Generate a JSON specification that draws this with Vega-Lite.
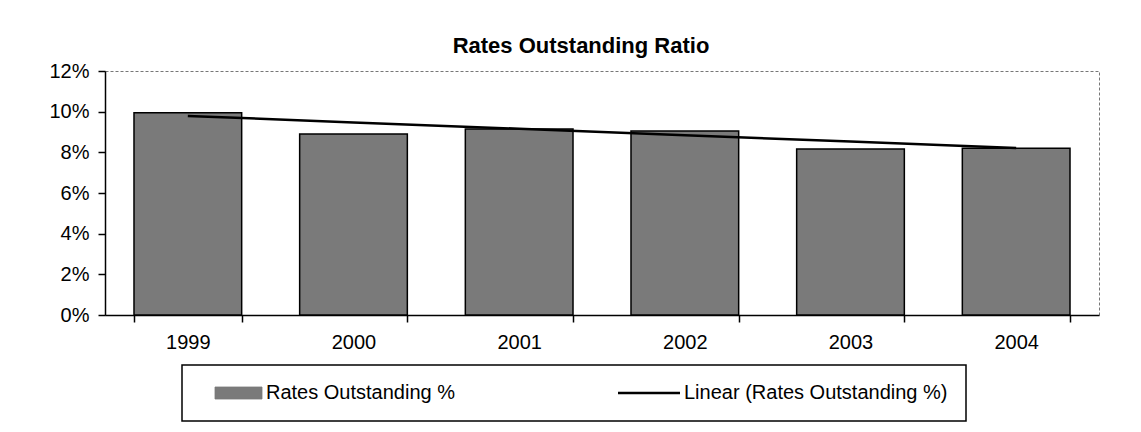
{
  "$schema": "https://vega.github.io/schema/vega-lite/v6.json",
  "autosize": {"type": "none"},
  "padding": {"left": 105, "top": 71, "right": 42, "bottom": 117},
  "width": 994,
  "height": 244,
  "background": "white",
  "title": {
    "text": "Rates Outstanding Ratio",
    "font": "Liberation Sans",
    "fontSize": 22,
    "fontWeight": "bold",
    "color": "black",
    "anchor": "middle",
    "dx": -21,
    "offset": 3
  },
  "data": {
    "values": [
      {"year": "1999", "rate": 0.0995, "trend": 0.0979},
      {"year": "2000", "rate": 0.0890, "trend": 0.0947},
      {"year": "2001", "rate": 0.0915, "trend": 0.0916},
      {"year": "2002", "rate": 0.0905, "trend": 0.0884},
      {"year": "2003", "rate": 0.0817, "trend": 0.0853},
      {"year": "2004", "rate": 0.0820, "trend": 0.0821}
    ]
  },
  "encoding": {
    "x": {
      "field": "year",
      "type": "ordinal",
      "scale": {"paddingInner": 0.35, "paddingOuter": 0.175},
      "axis": {
        "title": null,
        "labelAngle": 0,
        "tickBand": "extent",
        "labelFont": "Liberation Sans",
        "labelFontSize": 20,
        "labelColor": "black",
        "labelPadding": 10,
        "tickSize": 7,
        "tickColor": "black",
        "domainColor": "black",
        "domainWidth": 1.5,
        "tickWidth": 1.5
      }
    }
  },
  "layer": [
    {
      "mark": {"type": "bar", "stroke": "black", "strokeWidth": 1.5},
      "encoding": {
        "y": {
          "field": "rate",
          "type": "quantitative",
          "scale": {"domain": [0, 0.12], "nice": false},
          "axis": {
            "title": null,
            "values": [0, 0.02, 0.04, 0.06, 0.08, 0.1, 0.12],
            "format": ".0%",
            "grid": false,
            "labelFont": "Liberation Sans",
            "labelFontSize": 20,
            "labelColor": "black",
            "labelPadding": 9,
            "tickSize": 7,
            "tickColor": "black",
            "domainColor": "black",
            "domainWidth": 1.5,
            "tickWidth": 1.5
          }
        },
        "color": {
          "datum": "Rates Outstanding %",
          "scale": {
            "domain": ["Rates Outstanding %", "Linear (Rates Outstanding %)"],
            "range": ["#7a7a7a", "#000000"]
          },
          "legend": {
            "title": null,
            "orient": "none",
            "direction": "horizontal",
            "legendX": 77,
            "legendY": 294,
            "padding": 18,
            "strokeColor": "black",
            "fillColor": "white",
            "columnPadding": 158,
            "labelOffset": 46,
            "labelLimit": 0,
            "labelFont": "Liberation Sans",
            "labelFontSize": 20,
            "labelColor": "black",
            "symbolSize": 400,
            "encode": {
              "legend": {"update": {"strokeWidth": {"value": 1.5}}},
              "symbols": {
                "update": {
                  "shape": {"signal": "datum.value === 'Rates Outstanding %' ? 'M0.5,-0.6H5.2V0.6H0.5Z' : 'M-1,0H5.2'"},
                  "fill": {"signal": "datum.value === 'Rates Outstanding %' ? '#7a7a7a' : 'transparent'"},
                  "stroke": {"value": "black"},
                  "strokeWidth": {"signal": "datum.value === 'Rates Outstanding %' ? 0.8 : 2.5"},
                  "opacity": {"value": 1},
                  "fillOpacity": {"value": 1},
                  "strokeOpacity": {"value": 1}
                }
              }
            }
          }
        }
      }
    },
    {
      "mark": {"type": "line", "strokeWidth": 2.5},
      "encoding": {
        "y": {"field": "trend", "type": "quantitative"},
        "color": {
          "datum": "Linear (Rates Outstanding %)",
          "legend": {
            "title": null,
            "orient": "none",
            "direction": "horizontal",
            "legendX": 77,
            "legendY": 294,
            "padding": 18,
            "strokeColor": "black",
            "fillColor": "white",
            "columnPadding": 158,
            "labelOffset": 46,
            "labelLimit": 0,
            "labelFont": "Liberation Sans",
            "labelFontSize": 20,
            "labelColor": "black",
            "symbolSize": 400,
            "encode": {
              "legend": {"update": {"strokeWidth": {"value": 1.5}}},
              "symbols": {
                "update": {
                  "shape": {"signal": "datum.value === 'Rates Outstanding %' ? 'M0.5,-0.6H5.2V0.6H0.5Z' : 'M-1,0H5.2'"},
                  "fill": {"signal": "datum.value === 'Rates Outstanding %' ? '#7a7a7a' : 'transparent'"},
                  "stroke": {"value": "black"},
                  "strokeWidth": {"signal": "datum.value === 'Rates Outstanding %' ? 0.8 : 2.5"},
                  "opacity": {"value": 1},
                  "fillOpacity": {"value": 1},
                  "strokeOpacity": {"value": 1}
                }
              }
            }
          }
        }
      }
    }
  ],
  "config": {
    "view": {"stroke": "#777777", "strokeDash": [3, 2], "strokeWidth": 1}
  }
}
